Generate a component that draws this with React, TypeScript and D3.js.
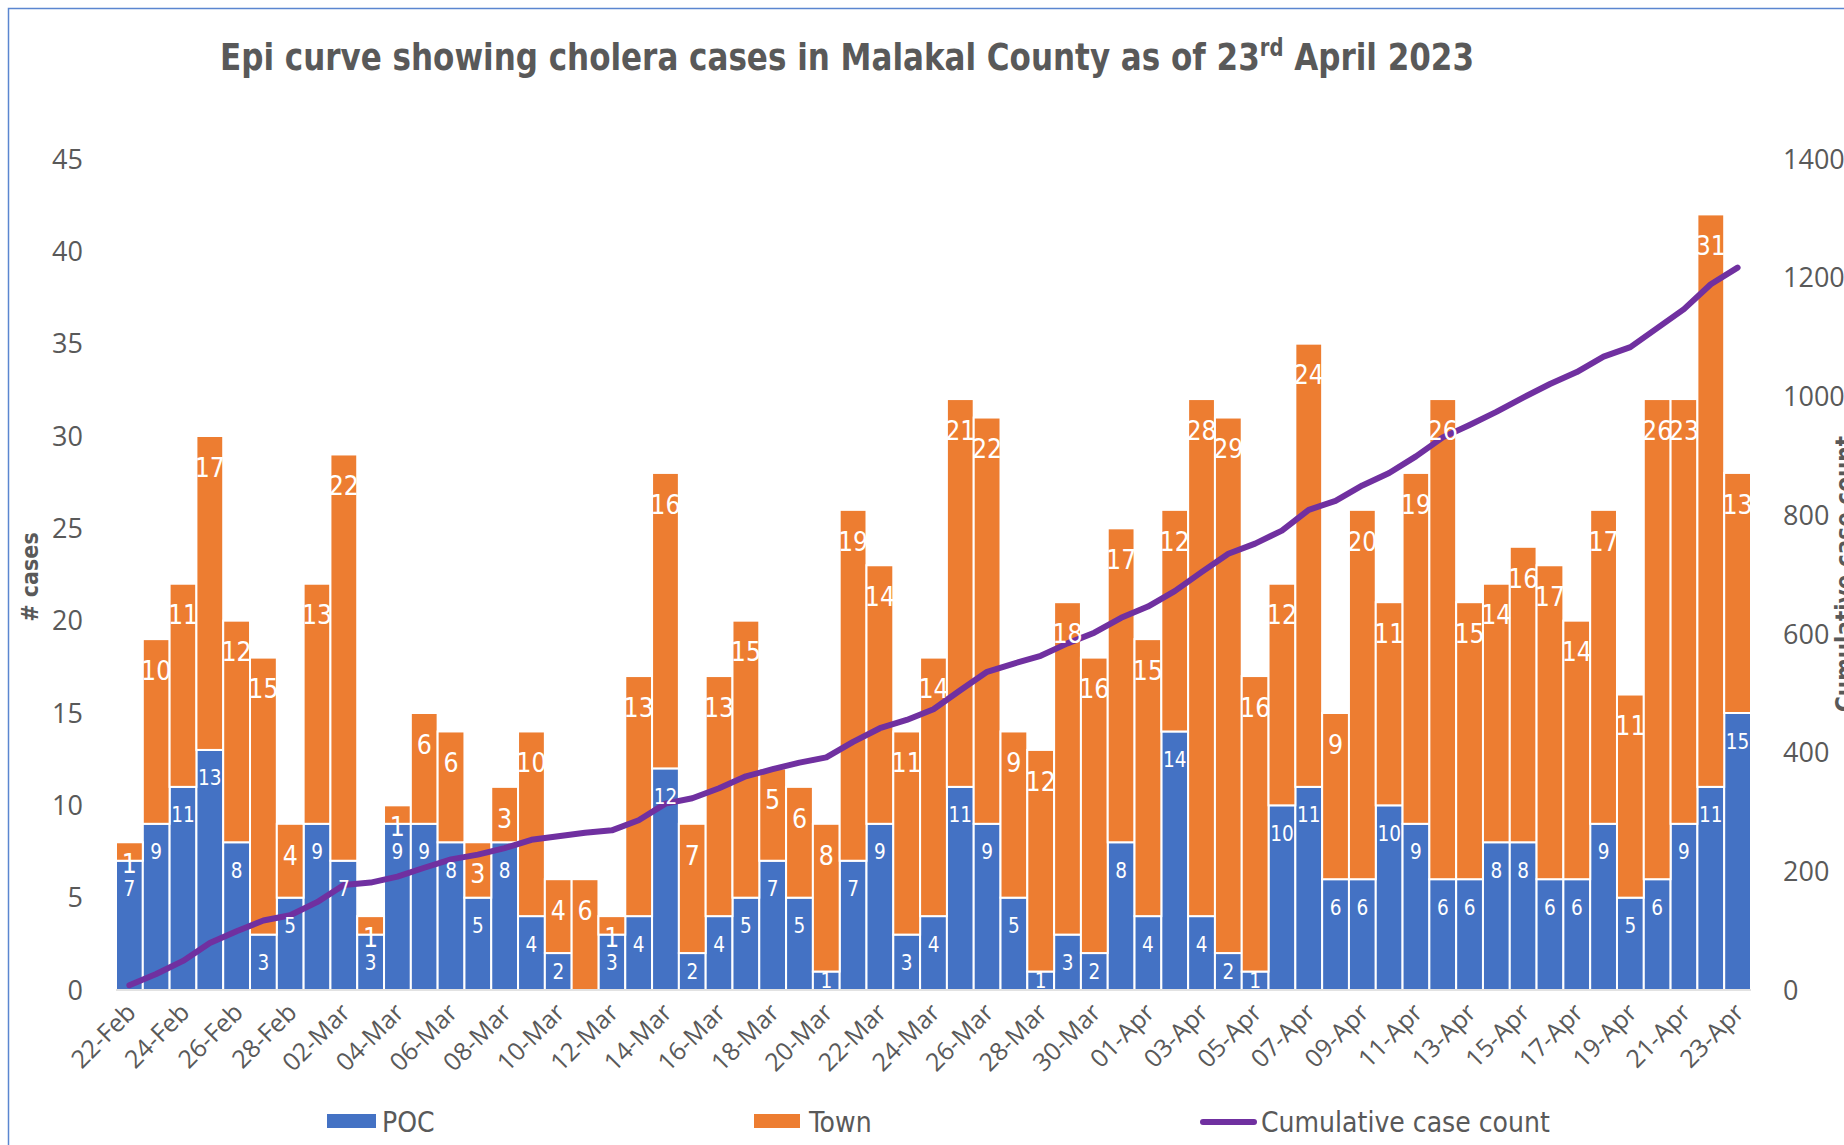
import React, { useEffect, useRef } from 'react';
import * as d3 from 'd3';

// daily cases, 22-Feb .. 23-Apr 2023
const poc = [7, 9, 11, 13, 8, 3, 5, 9, 7, 3, 9, 9, 8, 5, 8, 4, 2, 0, 3, 4, 12, 2, 4, 5, 7, 5, 1, 7, 9, 3, 4, 11, 9, 5, 1, 3, 2, 8, 4, 14, 4, 2, 1, 10, 11, 6, 6, 10, 9, 6, 6, 8, 8, 6, 6, 9, 5, 6, 9, 11, 15];
const town = [1, 10, 11, 17, 12, 15, 4, 13, 22, 1, 1, 6, 6, 3, 3, 10, 4, 6, 1, 13, 16, 7, 13, 15, 5, 6, 8, 19, 14, 11, 14, 21, 22, 9, 12, 18, 16, 17, 15, 12, 28, 29, 16, 12, 24, 9, 20, 11, 19, 26, 15, 14, 16, 17, 14, 17, 11, 26, 23, 31, 13];
const leftTicks = [0, 5, 10, 15, 20, 25, 30, 35, 40, 45];
const rightTicks = [0, 200, 400, 600, 800, 1000, 1200, 1400];

const days = d3.timeDay.range(new Date(2023, 1, 22), new Date(2023, 3, 24));
const fmt = d3.timeFormat('%d-%b');
const dates = days.map(d => fmt(d));

const BLUE = '#4472C4';
const ORANGE = '#ED7D31';
const PURPLE = '#7030A0';
const GREY = '#595959';
const NARROW = "'Liberation Sans Narrow', 'DejaVu Sans Condensed', 'Arial Narrow', sans-serif";
const TICKFONT = "'Open Sans', 'Noto Sans', sans-serif";

function EpiCurve() {
  const svgRef = useRef(null);

  useEffect(() => {
    const svg = d3.select(svgRef.current);
    svg.selectAll('*').remove();

    const left = 116, right = 1751, top = 159, bottom = 990;

    const x = d3.scaleBand().domain(dates).range([left, right]).padding(0);
    const yL = d3.scaleLinear().domain([0, 45]).range([bottom, top]);
    const yR = d3.scaleLinear().domain([0, 1400]).range([bottom, top]);

    const totals = poc.map((p, i) => p + town[i]);
    const cum = Array.from(d3.cumsum(totals));
    const rows = dates.map((d, i) => ({ date: d, poc: poc[i], town: town[i], total: totals[i], cum: cum[i] }));

    // frame
    svg.append('rect')
      .attr('x', 8.5).attr('y', 8.5)
      .attr('width', 1900).attr('height', 1200)
      .attr('fill', 'none')
      .attr('stroke', '#5B86D0')
      .attr('stroke-width', 1.5);

    // title (squeezed to the reference width)
    const title = svg.append('text')
      .attr('x', 847).attr('y', 70)
      .attr('text-anchor', 'middle')
      .attr('font-family', NARROW)
      .attr('font-weight', 'bold')
      .attr('font-size', 38)
      .attr('fill', GREY)
      .attr('textLength', 1254)
      .attr('lengthAdjust', 'spacingAndGlyphs');
    title.append('tspan').text('Epi curve showing cholera cases in Malakal County as of 23');
    title.append('tspan').attr('dy', -14).attr('font-size', 24).text('rd');
    title.append('tspan').attr('dy', 14).text(' April 2023');

    // bars
    const cx = d => x(d.date) + x.bandwidth() / 2;
    const bars = svg.append('g').attr('stroke', '#fff').attr('stroke-width', 2);
    bars.selectAll('.poc')
      .data(rows)
      .enter().append('rect')
      .attr('class', 'poc')
      .attr('fill', BLUE)
      .attr('x', d => x(d.date))
      .attr('y', d => yL(d.poc))
      .attr('width', x.bandwidth())
      .attr('height', d => bottom - yL(d.poc));
    bars.selectAll('.town')
      .data(rows)
      .enter().append('rect')
      .attr('class', 'town')
      .attr('fill', ORANGE)
      .attr('x', d => x(d.date))
      .attr('y', d => yL(d.total))
      .attr('width', x.bandwidth())
      .attr('height', d => yL(d.poc) - yL(d.total));

    // baseline
    svg.append('line')
      .attr('x1', left).attr('x2', right)
      .attr('y1', bottom).attr('y2', bottom)
      .attr('stroke', '#D9D9D9').attr('stroke-width', 1.5);

    // cumulative line
    const line = d3.line()
      .x(d => cx(d))
      .y(d => yR(d.cum));
    svg.append('path')
      .datum(rows)
      .attr('d', line)
      .attr('fill', 'none')
      .attr('stroke', PURPLE)
      .attr('stroke-width', 6)
      .attr('stroke-linejoin', 'round')
      .attr('stroke-linecap', 'round');

    // data labels
    const labels = svg.append('g')
      .attr('font-family', "'DejaVu Sans', sans-serif")
      .attr('fill', '#fff')
      .attr('text-anchor', 'middle');
    labels.selectAll('.lpoc')
      .data(rows.filter(d => d.poc > 0))
      .enter().append('text')
      .attr('class', 'lpoc')
      .attr('font-size', 21)
      .attr('dy', '0.36em')
      .attr('transform', d => {
        const segH = bottom - yL(d.poc);
        return `translate(${cx(d)},${yL(d.poc) + Math.min(28, segH / 2)}) scale(0.88,1)`;
      })
      .text(d => d.poc);
    labels.selectAll('.ltown')
      .data(rows.filter(d => d.town > 0))
      .enter().append('text')
      .attr('class', 'ltown')
      .attr('font-size', 27)
      .attr('dy', '0.36em')
      .attr('transform', d => {
        const segH = yL(d.poc) - yL(d.total);
        return `translate(${cx(d)},${yL(d.total) + Math.min(31, segH / 2 + 12)}) scale(0.88,1)`;
      })
      .text(d => d.town);

    // left axis
    svg.append('g')
      .selectAll('text')
      .data(leftTicks)
      .enter().append('text')
      .attr('x', 83)
      .attr('y', d => yL(d))
      .attr('dy', '0.36em')
      .attr('text-anchor', 'end')
      .attr('font-family', TICKFONT)
      .attr('font-size', 27)
      .attr('fill', GREY)
      .text(d => d);

    // right axis
    svg.append('g')
      .selectAll('text')
      .data(rightTicks)
      .enter().append('text')
      .attr('x', 1783)
      .attr('y', d => yR(d))
      .attr('dy', '0.36em')
      .attr('text-anchor', 'start')
      .attr('font-family', TICKFONT)
      .attr('font-size', 27)
      .attr('fill', GREY)
      .text(d => d);

    // x axis labels, every other day
    svg.append('g')
      .selectAll('text')
      .data(rows.filter((d, i) => i % 2 === 0))
      .enter().append('text')
      .attr('transform', d => `translate(${cx(d) + 8},${bottom + 24}) rotate(-45)`)
      .attr('text-anchor', 'end')
      .attr('font-family', TICKFONT)
      .attr('font-size', 25)
      .attr('fill', GREY)
      .text(d => d.date);

    // axis titles
    svg.append('text')
      .attr('transform', 'translate(38,577) rotate(-90)')
      .attr('text-anchor', 'middle')
      .attr('font-family', NARROW)
      .attr('font-weight', 'bold')
      .attr('font-size', 23)
      .attr('fill', GREY)
      .text('# cases');
    svg.append('text')
      .attr('transform', 'translate(1853,574) rotate(-90)')
      .attr('text-anchor', 'middle')
      .attr('font-family', NARROW)
      .attr('font-weight', 'bold')
      .attr('font-size', 24)
      .attr('fill', GREY)
      .text('Cumulative case count');

    // legend
    const leg = svg.append('g')
      .attr('font-family', NARROW)
      .attr('font-size', 28)
      .attr('fill', GREY);
    leg.append('rect').attr('x', 327).attr('y', 1114).attr('width', 49).attr('height', 14).attr('fill', BLUE);
    leg.append('text').attr('x', 382).attr('y', 1132).text('POC');
    leg.append('rect').attr('x', 754).attr('y', 1114).attr('width', 46).attr('height', 14).attr('fill', ORANGE);
    leg.append('text').attr('x', 809).attr('y', 1132).text('Town');
    leg.append('line')
      .attr('x1', 1203).attr('x2', 1254)
      .attr('y1', 1122).attr('y2', 1122)
      .attr('stroke', PURPLE).attr('stroke-width', 6)
      .attr('stroke-linecap', 'round');
    leg.append('text').attr('x', 1261).attr('y', 1132).text('Cumulative case count');
  }, []);

  return (
    <svg ref={svgRef} width={1844} height={1145}
      style={{ position: 'absolute', left: 0, top: 0, display: 'block', background: '#fff' }}></svg>
  );
}

export default function App() {
  return <EpiCurve />;
}
